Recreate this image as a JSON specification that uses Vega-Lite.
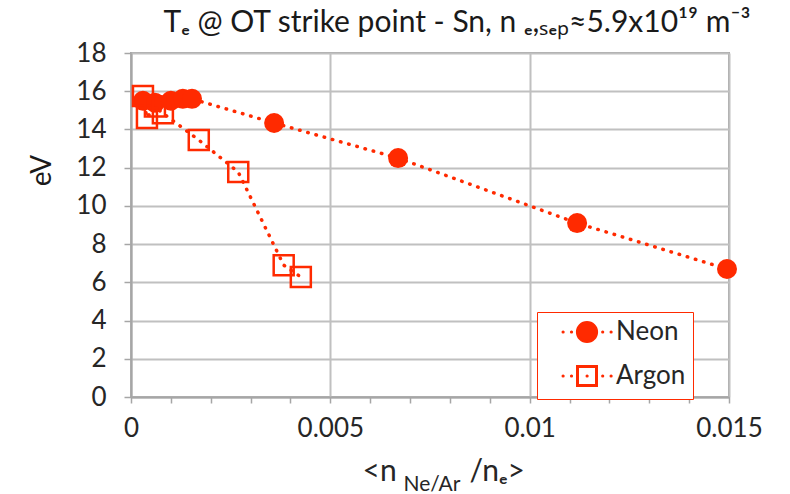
{
  "$schema": "https://vega.github.io/schema/vega-lite/v6.json",
  "width": 598,
  "height": 344,
  "autosize": "none",
  "padding": {"left": 131, "top": 53, "right": 61, "bottom": 97},
  "background": "white",
  "config": {"view": {"stroke": "#a6a6a6", "strokeWidth": 2}, "font": "Lato"},
  "title": {
    "text": "Tₑ @ OT strike point - Sn, n ₑ,ₛₑₚ≈5.9x10¹⁹ m⁻³",
    "font": "Lato",
    "fontSize": 30,
    "fontWeight": "normal",
    "color": "#1a1a1a",
    "anchor": "middle",
    "baseline": "alphabetic",
    "dx": 27,
    "dy": 29,
    "offset": 7
  },
  "data": {
    "values": [
      {"series": "Neon", "x": 0.0003, "y": 15.5},
      {"series": "Neon", "x": 0.0006, "y": 15.4},
      {"series": "Neon", "x": 0.0010, "y": 15.5},
      {"series": "Neon", "x": 0.0013, "y": 15.6},
      {"series": "Neon", "x": 0.00153, "y": 15.6},
      {"series": "Neon", "x": 0.00359, "y": 14.34},
      {"series": "Neon", "x": 0.0067, "y": 12.5},
      {"series": "Neon", "x": 0.01119, "y": 9.1},
      {"series": "Neon", "x": 0.01495, "y": 6.7},
      {"series": "Argon", "x": 0.0003, "y": 15.75},
      {"series": "Argon", "x": 0.0004, "y": 14.6},
      {"series": "Argon", "x": 0.0006, "y": 15.2},
      {"series": "Argon", "x": 0.0008, "y": 14.85},
      {"series": "Argon", "x": 0.0017, "y": 13.45},
      {"series": "Argon", "x": 0.00269, "y": 11.77},
      {"series": "Argon", "x": 0.00383, "y": 6.9},
      {"series": "Argon", "x": 0.00426, "y": 6.28}
    ]
  },
  "encoding": {
    "y": {
      "field": "y",
      "type": "quantitative",
      "scale": {"domain": [0, 18], "nice": false, "zero": false},
      "axis": {
        "values": [0, 2, 4, 6, 8, 10, 12, 14, 16, 18],
        "grid": true,
        "gridColor": "#c0c0c0",
        "gridWidth": 2,
        "domainColor": "#a6a6a6",
        "domainWidth": 2,
        "tickColor": "#a6a6a6",
        "tickWidth": 1.5,
        "tickSize": 7,
        "labelFont": "Lato",
        "labelFontSize": 26,
        "labelColor": "#262626",
        "labelPadding": 18,
        "title": "eV",
        "titleFont": "Lato",
        "titleFontSize": 28,
        "titleFontWeight": "normal",
        "titleColor": "#1a1a1a",
        "titleAngle": -90,
        "titleAlign": "center",
        "titleBaseline": "middle",
        "titleX": -89,
        "titleY": 117
      }
    },
    "color": {
      "field": "series",
      "type": "nominal",
      "scale": {"domain": ["Neon", "Argon"], "range": ["#ff2a00", "#ff2a00"]},
      "legend": {
        "orient": "none",
        "legendX": 406,
        "legendY": 259,
        "title": null,
        "strokeColor": "#ff2a00",
        "fillColor": "white",
        "padding": 7,
        "symbolSize": 400,
        "symbolOffset": 30,
        "labelOffset": 16,
        "rowPadding": 12,
        "labelFont": "Lato",
        "labelFontSize": 26,
        "labelColor": "#262626",
        "encode": {
          "symbols": {
            "update": {
              "shape": {"signal": "datum.value === 'Neon' ? 'M-0.96,0a0.96,0.96 0 1,0 1.92,0a0.96,0.96 0 1,0 -1.92,0ZM-2.4,0h0.02M-1.56,0h0.02M1.56,0h0.02M2.4,0h0.02' : 'M-0.95,-0.95h1.9v1.9h-1.9ZM-2.4,0h0.02M-1.56,0h0.02M0,0h0.02M1.56,0h0.02M2.4,0h0.02'"},
              "fillOpacity": {"signal": "datum.value === 'Neon' ? 1 : 0"},
              "stroke": {"value": "#ff2a00"},
              "strokeWidth": {"value": 3},
              "strokeCap": {"value": "round"},
              "strokeDash": {"value": []},
              "opacity": {"value": 1}
            }
          },
          "entries": {
            "update": {
              "width": {"value": 164},
              "fill": {"value": "transparent"}
            }
          }
        }
      }
    }
  },
  "layer": [
    {
      "mark": {"type": "line", "strokeDash": [0.5, 8], "strokeCap": "round", "strokeWidth": 3.5},
      "encoding": {
        "x": {
          "field": "x",
          "type": "quantitative",
          "scale": {"domain": [0, 0.015], "nice": false, "zero": false},
          "axis": {
            "orient": "bottom",
            "values": [0, 0.001, 0.002, 0.003, 0.004, 0.005, 0.006, 0.007, 0.008, 0.009, 0.01, 0.011, 0.012, 0.013, 0.014, 0.015],
            "labelExpr": "round(datum.value*1000) % 5 == 0 ? (datum.value == 0 ? '0' : format(datum.value, '~g')) : ''",
            "labelOverlap": false,
            "labelFlush": false,
            "grid": true,
            "gridOpacity": {"condition": {"test": "round(datum.value*1000) % 5 == 0", "value": 1}, "value": 0},
            "gridColor": "#c0c0c0",
            "gridWidth": 2,
            "domainColor": "#a6a6a6",
            "domainWidth": 2,
            "tickColor": "#a6a6a6",
            "tickWidth": 1.5,
            "tickSize": 6,
            "labelFont": "Lato",
            "labelFontSize": 26,
            "labelColor": "#262626",
            "labelPadding": 12,
            "title": "<n",
            "titleFont": "Lato",
            "titleFontSize": 30,
            "titleFontWeight": "normal",
            "titleColor": "#262626",
            "titleAlign": "left",
            "titleBaseline": "alphabetic",
            "titleX": 231,
            "titleY": 83
          }
        }
      }
    },
    {
      "transform": [{"filter": "datum.series === 'Neon'"}],
      "mark": {"type": "point", "shape": "circle", "filled": true, "size": 400, "opacity": 1},
      "encoding": {
        "x": {
          "field": "x",
          "type": "quantitative",
          "scale": {"domain": [0, 0.015], "nice": false, "zero": false},
          "axis": {
            "orient": "bottom",
            "domain": false,
            "ticks": false,
            "labels": false,
            "grid": false,
            "title": "Ne/Ar",
            "titleFont": "Lato",
            "titleFontSize": 21,
            "titleFontWeight": "normal",
            "titleColor": "#262626",
            "titleAlign": "left",
            "titleBaseline": "alphabetic",
            "titleX": 272,
            "titleY": 93
          }
        }
      }
    },
    {
      "transform": [{"filter": "datum.series === 'Argon'"}],
      "mark": {"type": "point", "shape": "square", "filled": false, "size": 400, "strokeWidth": 2.5, "opacity": 1},
      "encoding": {
        "x": {
          "field": "x",
          "type": "quantitative",
          "scale": {"domain": [0, 0.015], "nice": false, "zero": false},
          "axis": {
            "orient": "bottom",
            "domain": false,
            "ticks": false,
            "labels": false,
            "grid": false,
            "title": "/nₑ>",
            "titleFont": "Lato",
            "titleFontSize": 30,
            "titleFontWeight": "normal",
            "titleColor": "#262626",
            "titleAlign": "left",
            "titleBaseline": "alphabetic",
            "titleX": 338,
            "titleY": 83
          }
        }
      }
    }
  ],
  "resolve": {"axis": {"x": "independent"}}
}
